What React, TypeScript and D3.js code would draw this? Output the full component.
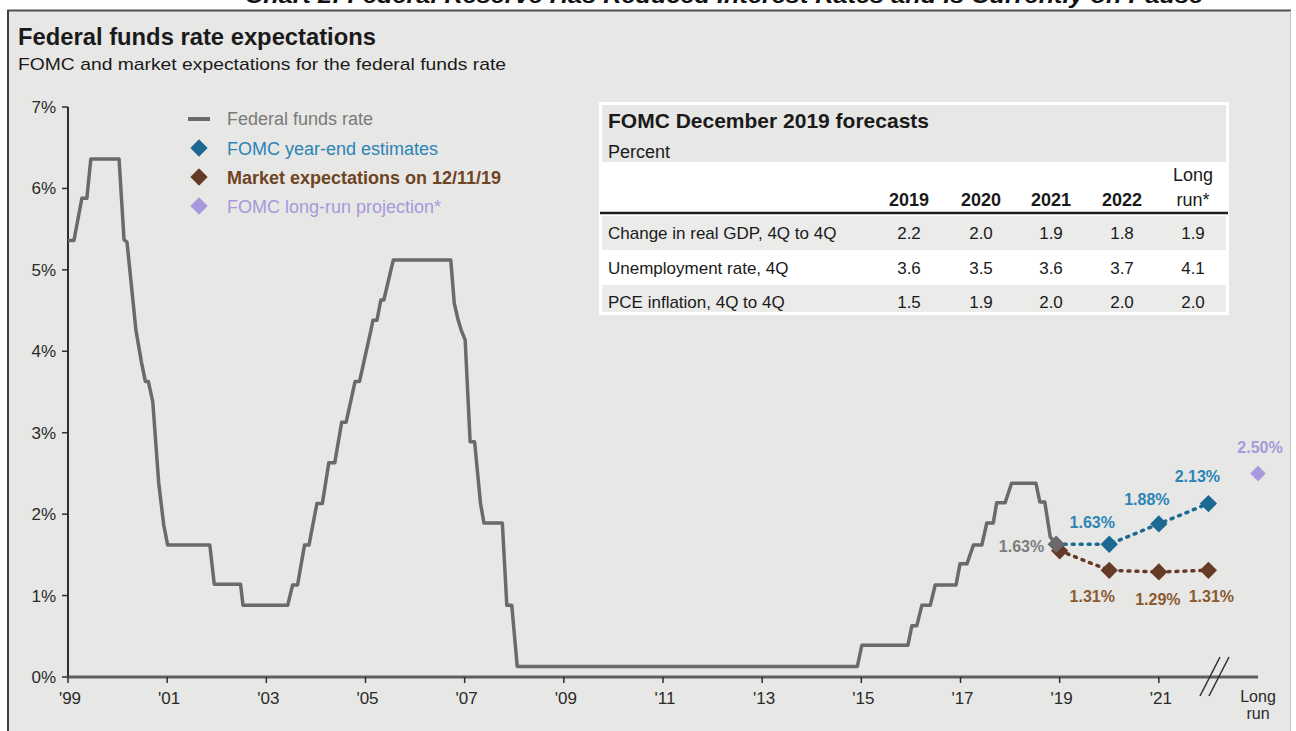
import React from "react";
import * as d3 from "d3";

const W = 1296;
const H = 731;

// federal funds rate, [year, percent]
const fedFunds: [number, number][] = [
  [1999.0, 5.36], [1999.12, 5.36], [1999.28, 5.88], [1999.38, 5.88],
  [1999.46, 6.36], [2000.03, 6.36], [2000.13, 5.37], [2000.19, 5.34],
  [2000.37, 4.26], [2000.48, 3.87], [2000.56, 3.63], [2000.62, 3.63],
  [2000.71, 3.38], [2000.83, 2.38], [2000.93, 1.87], [2001.01, 1.62],
  [2001.86, 1.62], [2001.95, 1.14], [2002.48, 1.14], [2002.53, 0.88],
  [2003.43, 0.88], [2003.53, 1.13], [2003.63, 1.13], [2003.77, 1.62],
  [2003.86, 1.62], [2004.02, 2.13], [2004.13, 2.13], [2004.26, 2.63],
  [2004.38, 2.63], [2004.52, 3.13], [2004.61, 3.13], [2004.79, 3.63],
  [2004.88, 3.63], [2005.11, 4.26], [2005.15, 4.38], [2005.23, 4.38],
  [2005.31, 4.63], [2005.37, 4.63], [2005.56, 5.12], [2006.72, 5.12],
  [2006.79, 4.59], [2006.87, 4.38], [2006.93, 4.26], [2007.01, 4.14],
  [2007.11, 2.89], [2007.2, 2.89], [2007.32, 2.13], [2007.39, 1.89],
  [2007.76, 1.89], [2007.85, 0.88], [2007.95, 0.88], [2008.06, 0.13],
  [2014.92, 0.13], [2015.01, 0.39], [2015.94, 0.39], [2016.02, 0.63],
  [2016.12, 0.63], [2016.22, 0.88], [2016.39, 0.88], [2016.49, 1.13],
  [2016.91, 1.13], [2016.99, 1.39], [2017.13, 1.39], [2017.26, 1.62],
  [2017.43, 1.62], [2017.53, 1.89], [2017.66, 1.89], [2017.73, 2.14],
  [2017.9, 2.14], [2018.03, 2.38], [2018.52, 2.38], [2018.6, 2.15],
  [2018.7, 2.15], [2018.81, 1.72], [2018.93, 1.63],
];
const fedLabel = "1.63%";

const projYears = [2019, 2020, 2021, 2022];
const fomcValues = [1.63, 1.63, 1.88, 2.13];
const fomcLabels = ["", "1.63%", "1.88%", "2.13%"];
const marketValues = [1.55, 1.31, 1.29, 1.31];
const marketLabels = ["", "1.31%", "1.29%", "1.31%"];
const longRunPos = 2023;
const longRunValue = 2.5;
const longRunLabel = "2.50%";

const xTickYears = [1999, 2001, 2003, 2005, 2007, 2009, 2011, 2013, 2015, 2017, 2019, 2021];
const xTickLabels = ["'99", "'01", "'03", "'05", "'07", "'09", "'11", "'13", "'15", "'17", "'19", "'21"];
const yTicks = [0, 1, 2, 3, 4, 5, 6, 7];

const legendItems = [
  "Federal funds rate",
  "FOMC year-end estimates",
  "Market expectations on 12/11/19",
  "FOMC long-run projection*",
];

const tableCols = ["2019", "2020", "2021", "2022"];
const tableRowLabels = ["Change in real GDP, 4Q to 4Q", "Unemployment rate, 4Q", "PCE inflation, 4Q to 4Q"];
const gdp = ["2.2", "2.0", "1.9", "1.8", "1.9"];
const unemployment = ["3.6", "3.5", "3.6", "3.7", "4.1"];
const pce = ["1.5", "1.9", "2.0", "2.0", "2.0"];

// colours
const BG = "#e7e7e5";
const GRAY = "#6a6a6a";
const BLUE = "#1c6a92";
const BLUE_TXT = "#2b84b6";
const BROWN = "#653a26";
const BROWN_TXT = "#8a5a30";
const LAV = "#a898dc";
const FONT = "'Liberation Sans', Arial, sans-serif";

// small nudges for the value labels (layout only)
const fomcNudge = [[0, 0], [-17, -16], [-12, -19], [-11, -22]];
const marketNudge = [[0, 0], [-17, 32], [-1, 33], [3, 32]];

const App: React.FC = () => {
  const x = d3.scaleLinear().domain([1999, 2023]).range([68, 1258]);
  const y = d3.scaleLinear().domain([0, 7]).range([677, 107]);

  const line = d3
    .line<[number, number]>()
    .x((d) => x(d[0]))
    .y((d) => y(d[1]));

  const diamond = d3.symbol().type(d3.symbolSquare).size(150)()!;
  const diamondSmall = d3.symbol().type(d3.symbolSquare).size(120)()!;

  const last = fedFunds[fedFunds.length - 1];
  const fomcPts: [number, number][] = projYears.map((yr, i) => [yr, fomcValues[i]]);
  fomcPts[0] = [last[0], fomcValues[0]];
  const marketPts: [number, number][] = projYears.map((yr, i) => [yr, marketValues[i]]);

  const colX = [909, 981, 1051, 1122, 1193];
  const rowY = [239, 274, 308];
  const rowData = [gdp, unemployment, pce];

  return (
    <div style={{ position: "absolute", left: 0, top: 0 }}>
      <svg width={W} height={H} style={{ display: "block", fontFamily: FONT }}>
        <rect width={W} height={H} fill="#ffffff" />
        {/* clipped page heading */}
        <text x={724} y={3} textAnchor="middle" fontSize={22} fontWeight="bold" fontStyle="italic"
          fill="#111" textLength={958} lengthAdjust="spacingAndGlyphs">
          Chart 2: Federal Reserve Has Reduced Interest Rates and Is Currently on Pause
        </text>

        {/* panel */}
        <rect x={8} y={11} width={1282} height={H} fill={BG} />
        <line x1={7} x2={1291} y1={10.5} y2={10.5} stroke="#505050" strokeWidth={2} />
        <line x1={8} x2={8} y1={10} y2={H} stroke="#404040" strokeWidth={2} />
        <line x1={1290.5} x2={1290.5} y1={11} y2={H} stroke="#c4c4c4" strokeWidth={1} />

        <text x={18} y={45} fontSize={24} fontWeight="bold" fill="#1a1a1a" textLength={358} lengthAdjust="spacingAndGlyphs">
          Federal funds rate expectations
        </text>
        <text x={18} y={70} fontSize={17} fill="#1a1a1a" textLength={488} lengthAdjust="spacingAndGlyphs">
          FOMC and market expectations for the federal funds rate
        </text>

        {/* y axis */}
        <line x1={68} x2={68} y1={y(7)} y2={y(0)} stroke="#2e2e2e" strokeWidth={2} />
        {yTicks.map((t) => (
          <g key={t}>
            <line x1={62} x2={68} y1={y(t)} y2={y(t)} stroke="#2e2e2e" strokeWidth={1.5} />
            <text x={56} y={y(t) + 6} textAnchor="end" fontSize={17} fill="#2a2a2a">{t}%</text>
          </g>
        ))}

        {/* x axis */}
        <line x1={x(1999)} x2={x(2023)} y1={y(0)} y2={y(0)} stroke="#5e5e5e" strokeWidth={3} />
        {xTickYears.map((t, i) => (
          <g key={t}>
            <line x1={x(t)} x2={x(t)} y1={y(0)} y2={y(0) + 6} stroke="#2e2e2e" strokeWidth={1.5} />
            <text x={x(t) + 2} y={704} textAnchor="middle" fontSize={17} fill="#2a2a2a">{xTickLabels[i]}</text>
          </g>
        ))}
        <text x={x(longRunPos)} y={702} textAnchor="middle" fontSize={16} fill="#2a2a2a">Long</text>
        <text x={x(longRunPos)} y={719} textAnchor="middle" fontSize={16} fill="#2a2a2a">run</text>
        <line x1={1200} y1={696} x2={1220} y2={657} stroke="#2e2e2e" strokeWidth={1.5} />
        <line x1={1209} y1={696} x2={1229} y2={657} stroke="#2e2e2e" strokeWidth={1.5} />

        {/* federal funds rate */}
        <path d={line(fedFunds)!} fill="none" stroke={GRAY} strokeWidth={3.5} strokeLinejoin="round" />

        {/* projections */}
        <path d={line(fomcPts)!} fill="none" stroke={BLUE} strokeWidth={3.5} strokeDasharray="2 6" strokeLinecap="round" />
        <path d={line(marketPts)!} fill="none" stroke={BROWN} strokeWidth={3.5} strokeDasharray="2 6" strokeLinecap="round" />

        {marketPts.map((p, i) => (
          <path key={"m" + i} d={diamond} fill={BROWN}
            transform={`translate(${x(p[0])},${y(p[1])}) rotate(45)`} />
        ))}
        {fomcPts.slice(1).map((p, i) => (
          <path key={"f" + i} d={diamond} fill={BLUE}
            transform={`translate(${x(p[0])},${y(p[1])}) rotate(45)`} />
        ))}
        <path d={diamond} fill={GRAY} transform={`translate(${x(last[0])},${y(last[1])}) rotate(45)`} />
        <path d={diamondSmall} fill={LAV} transform={`translate(${x(longRunPos)},${y(longRunValue)}) rotate(45)`} />

        {/* value labels */}
        <text x={x(last[0]) - 12} y={y(last[1]) + 8} textAnchor="end" fontSize={16} fontWeight="bold" fill="#7c7c7c">
          {fedLabel}
        </text>
        {projYears.map((yr, i) =>
          fomcLabels[i] ? (
            <text key={"fl" + i} x={x(yr) + fomcNudge[i][0]} y={y(fomcValues[i]) + fomcNudge[i][1]}
              textAnchor="middle" fontSize={16} fontWeight="bold" fill={BLUE_TXT}>
              {fomcLabels[i]}
            </text>
          ) : null
        )}
        {projYears.map((yr, i) =>
          marketLabels[i] ? (
            <text key={"ml" + i} x={x(yr) + marketNudge[i][0]} y={y(marketValues[i]) + marketNudge[i][1]}
              textAnchor="middle" fontSize={16} fontWeight="bold" fill={BROWN_TXT}>
              {marketLabels[i]}
            </text>
          ) : null
        )}
        <text x={x(longRunPos) + 2} y={y(longRunValue) - 20} textAnchor="middle" fontSize={16} fontWeight="bold" fill={LAV}>
          {longRunLabel}
        </text>

        {/* legend */}
        <line x1={188} x2={210} y1={119} y2={119} stroke={GRAY} strokeWidth={4} />
        <path d={diamond} fill={BLUE} transform="translate(199,148) rotate(45)" />
        <path d={diamond} fill={BROWN} transform="translate(199,177) rotate(45)" />
        <path d={diamond} fill={LAV} transform="translate(199,206) rotate(45)" />
        <text x={227} y={125} fontSize={18} fill="#7a7a7a">{legendItems[0]}</text>
        <text x={227} y={155} fontSize={18} fill={BLUE_TXT}>{legendItems[1]}</text>
        <text x={227} y={184} fontSize={18} fontWeight="bold" fill="#6e4424">{legendItems[2]}</text>
        <text x={227} y={213} fontSize={18} fill={LAV}>{legendItems[3]}</text>

        {/* forecast table */}
        <rect x={599} y={102} width={630} height={213} fill="#ffffff" />
        <rect x={602} y={105} width={624} height={57} fill={BG} />
        <rect x={602} y={216} width={624} height={34} fill="#ebebea" />
        <rect x={602} y={285} width={624} height={27} fill="#ebebea" />
        <line x1={600} x2={1228} y1={213} y2={213} stroke="#1e1e1e" strokeWidth={2.5} />
        <text x={608} y={128} fontSize={21} fontWeight="bold" fill="#1a1a1a">FOMC December 2019 forecasts</text>
        <text x={608} y={158} fontSize={18} fill="#1a1a1a">Percent</text>
        {tableCols.map((c, i) => (
          <text key={c} x={colX[i]} y={206} textAnchor="middle" fontSize={18} fontWeight="bold" fill="#1a1a1a">{c}</text>
        ))}
        <text x={colX[4]} y={181} textAnchor="middle" fontSize={18} fill="#1a1a1a">Long</text>
        <text x={colX[4]} y={206} textAnchor="middle" fontSize={18} fill="#1a1a1a">run*</text>
        {tableRowLabels.map((lab, r) => (
          <g key={lab}>
            <text x={608} y={rowY[r]} fontSize={17} fill="#1a1a1a">{lab}</text>
            {rowData[r].map((v, c) => (
              <text key={c} x={colX[c]} y={rowY[r]} textAnchor="middle" fontSize={17} fill="#1a1a1a">{v}</text>
            ))}
          </g>
        ))}
      </svg>
    </div>
  );
};

export default App;
